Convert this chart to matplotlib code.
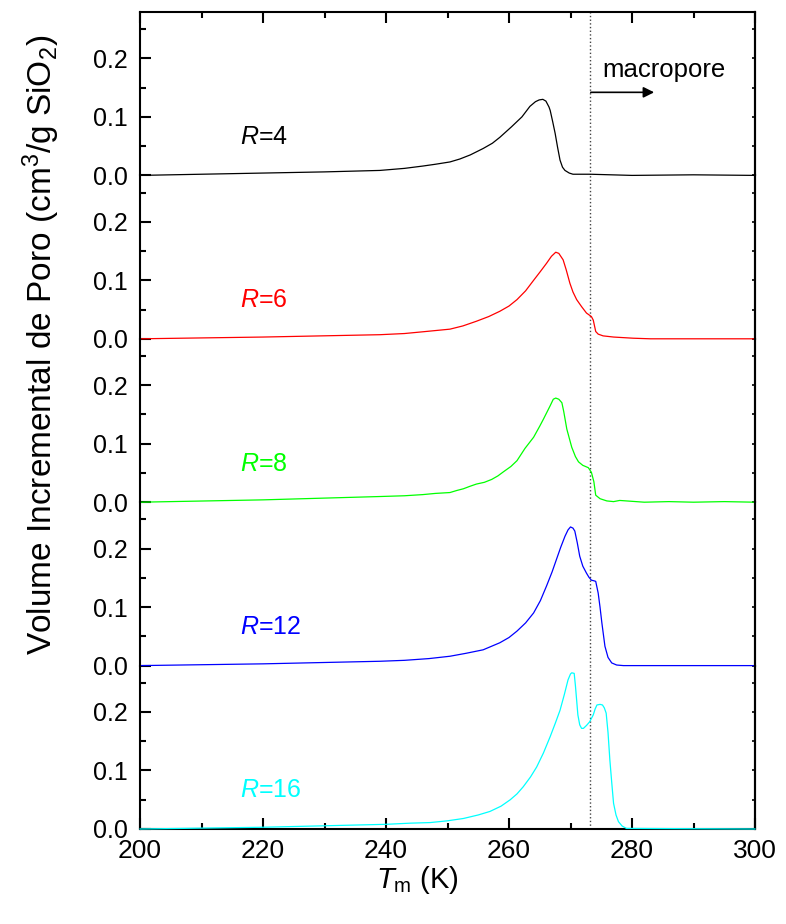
import numpy as np
import matplotlib
matplotlib.use("Agg")
import matplotlib.pyplot as plt
from matplotlib.ticker import MultipleLocator

plt.rcParams['font.family'] = ['Liberation Sans', 'DejaVu Sans']
plt.rcParams['mathtext.fontset'] = 'custom'
plt.rcParams['mathtext.rm'] = 'Liberation Sans'
plt.rcParams['mathtext.it'] = 'Liberation Sans:italic'

# ---- data (T in K, volume in cm3/g SiO2) ----
labels = ['4', '6', '8', '12', '16']
colors = ['#000000', '#ff0000', '#00ff00', '#0000ff', '#00ffff']

T_r4 = [200, 210, 220, 230, 239, 243, 246, 248, 250.4, 252, 253.7, 255.8, 257.3, 258.5,
        260.4, 262.1, 263.4, 264.3, 264.9, 265.5, 266.0, 266.5, 266.7, 267.1, 267.5, 267.9,
        268.3, 268.7, 269.1, 269.8, 270.4, 273.2, 280, 290, 300]
V_r4 = [0.0, 0.002, 0.004, 0.006, 0.0085, 0.012, 0.016, 0.019, 0.023, 0.028, 0.035, 0.046,
        0.055, 0.065, 0.083, 0.100, 0.118, 0.126, 0.129, 0.130, 0.127, 0.117, 0.111, 0.092,
        0.072, 0.048, 0.026, 0.014, 0.0085, 0.004, 0.002, 0.002, 0.0, 0.001, 0.0]

T_r6 = [200, 220, 239, 243, 246, 250.4, 252.5, 254.7, 256.7, 258.5, 260, 261.3, 262.7,
        264.0, 265.1, 266.1, 266.9, 267.6, 268.1, 268.8, 269.3, 269.9, 270.4, 271.0, 271.8,
        272.6, 273.4, 273.7, 274.1, 274.5, 275.3, 277, 280.2, 283, 300]
V_r6 = [0.0, 0.003, 0.007, 0.009, 0.012, 0.0165, 0.022, 0.030, 0.038, 0.047, 0.056, 0.067,
        0.082, 0.100, 0.115, 0.129, 0.141, 0.148, 0.146, 0.135, 0.118, 0.095, 0.080, 0.067,
        0.055, 0.044, 0.038, 0.032, 0.0125, 0.008, 0.005, 0.003, 0.001, 0.0, 0.0]

T_r8 = [200, 220, 239, 243, 246, 248, 250.4, 251.5, 252.6, 253.6, 254.7, 256, 257.2, 258.2,
        259.1, 260.3, 261.3, 262.6, 264.0, 265.0, 265.6, 266.7, 267.2, 267.6, 268.1, 268.6,
        268.9, 269.4, 270.2, 270.8, 271.3, 272.0, 272.9, 273.4, 273.8, 274.1, 274.8, 275.9,
        277, 278, 282, 286, 290, 295, 300]
V_r8 = [0.0, 0.004, 0.0097, 0.011, 0.013, 0.015, 0.0165, 0.020, 0.023, 0.027, 0.031, 0.034,
        0.039, 0.045, 0.052, 0.061, 0.071, 0.092, 0.111, 0.130, 0.142, 0.165, 0.176, 0.178,
        0.176, 0.170, 0.155, 0.125, 0.094, 0.078, 0.069, 0.063, 0.059, 0.051, 0.035, 0.012,
        0.006, 0.0022, 0.001, 0.003, 0.0, 0.001, 0.0, 0.001, 0.0]

T_r12 = [200, 220, 239, 243, 247, 250.4, 253, 255.8, 258.5, 260, 261.3, 262.7, 264.0, 265.1,
         266.1, 267.0, 267.7, 268.4, 269.1, 269.6, 270.0, 270.4, 270.7, 271.1, 271.5, 272.0,
         272.6, 273.0, 273.4, 273.8, 274.1, 274.5, 274.8, 275.1, 275.6, 276.1, 276.7, 277.5,
         278.6, 300]
V_r12 = [0.0, 0.003, 0.0074, 0.009, 0.012, 0.016, 0.021, 0.027, 0.039, 0.048, 0.059, 0.073,
         0.090, 0.111, 0.136, 0.160, 0.181, 0.202, 0.221, 0.232, 0.237, 0.235, 0.230, 0.210,
         0.187, 0.170, 0.158, 0.151, 0.146, 0.145, 0.144, 0.124, 0.100, 0.073, 0.033, 0.014,
         0.0046, 0.001, 0.0, 0.0]

T_r16 = [200, 220, 240, 244, 247.2, 250, 252.6, 255, 256.9, 258.7, 260.2, 261.3, 262.3, 263.5,
         264.5, 265.6, 266.7, 267.5, 268.3, 269.0, 269.6, 270.0, 270.2, 270.6, 270.8, 271.0,
         271.2, 271.5, 271.8, 272.1, 272.6, 273.1, 273.7, 274.0, 274.3, 274.8, 275.2, 275.5,
         275.8, 276.1, 276.4, 276.7, 277.0, 277.4, 277.8, 278.4, 279.1, 300]
V_r16 = [0.0, 0.003, 0.008, 0.010, 0.011, 0.014, 0.018, 0.024, 0.030, 0.039, 0.050, 0.060,
         0.072, 0.089, 0.106, 0.130, 0.158, 0.180, 0.203, 0.230, 0.255, 0.265, 0.267, 0.266,
         0.245, 0.220, 0.195, 0.178, 0.172, 0.172, 0.177, 0.183, 0.195, 0.205, 0.212, 0.213,
         0.212, 0.207, 0.198, 0.165, 0.118, 0.080, 0.044, 0.024, 0.0125, 0.005, 0.001, 0.0]

curves = [(T_r4, V_r4), (T_r6, V_r6), (T_r8, V_r8), (T_r12, V_r12), (T_r16, V_r16)]
T_bulk = 273.15

fig = plt.figure(figsize=(7.86, 9.24), dpi=100)

left, width = 140 / 786, 615 / 786
bottom, top = 1 - 829 / 924, 1 - 12 / 924
h = (top - bottom) / 5

for i, ((T, V), lab, col) in enumerate(zip(curves, labels, colors)):
    ax = fig.add_axes([left, top - (i + 1) * h, width, h])
    ax.plot(T, V, color=col, lw=0.9, clip_on=False, zorder=3)
    ax.axvline(T_bulk, color='#444444', ls=':', lw=1.0, zorder=2)
    ax.set_xlim(200, 300)
    ax.set_ylim(0, 0.2793)

    ax.text(216.3, 0.066, r'$\mathit{R}$=' + lab, color=col, fontsize=18,
            ha='left', va='center')

    ax.yaxis.set_minor_locator(MultipleLocator(0.05))
    ax.set_yticks([0.0, 0.1, 0.2])
    ax.set_yticklabels(['0.0', '0.1', '0.2'])
    ax.tick_params(axis='y', which='major', direction='in', length=8, width=1.5,
                   labelsize=18, pad=9, right=False)
    ax.tick_params(axis='y', which='minor', direction='in', length=4.5, width=1.5,
                   right=False)

    # short inward ticks on the right axis
    sec = ax.secondary_yaxis('right')
    sec.yaxis.set_major_locator(MultipleLocator(0.1))
    sec.yaxis.set_minor_locator(MultipleLocator(0.05))
    sec.tick_params(which='both', direction='in', length=2.5, width=1.2, labelright=False)
    sec.spines['right'].set_linewidth(1.5)

    for s in ['left', 'right', 'top', 'bottom']:
        ax.spines[s].set_linewidth(1.5)
    ax.spines['top'].set_visible(i == 0)
    ax.spines['bottom'].set_visible(i == 4)

    ax.xaxis.set_major_locator(MultipleLocator(20))
    ax.xaxis.set_minor_locator(MultipleLocator(10))
    ax.tick_params(axis='x', which='both', direction='in', width=1.5,
                   bottom=(i == 4), top=(i == 0), labelbottom=(i == 4), labeltop=False)
    ax.tick_params(axis='x', which='major', length=8, labelsize=19, pad=7)
    ax.tick_params(axis='x', which='minor', length=4.5)
    ax.patch.set_alpha(0)

    if i == 0:
        ax.annotate('', xy=(283.6, 0.142), xytext=(273.3, 0.142),
                    arrowprops=dict(arrowstyle='-|>', color='black', lw=1.2,
                                    mutation_scale=16, shrinkA=0, shrinkB=0))
        ax.text(275.1, 0.169, 'macropore', fontsize=18.5, ha='left', va='baseline')

fig.text(0.053, 1 - 345 / 924, r'Volume Incremental de Poro (cm$^3$/g SiO$_2$)',
         rotation=90, ha='center', va='center', fontsize=24)
fig.text(417 / 786, 1 - 880 / 924, r'$T_{\mathrm{m}}$ (K)', ha='center', va='center',
         fontsize=21)

fig.savefig('out.png', dpi=100)
